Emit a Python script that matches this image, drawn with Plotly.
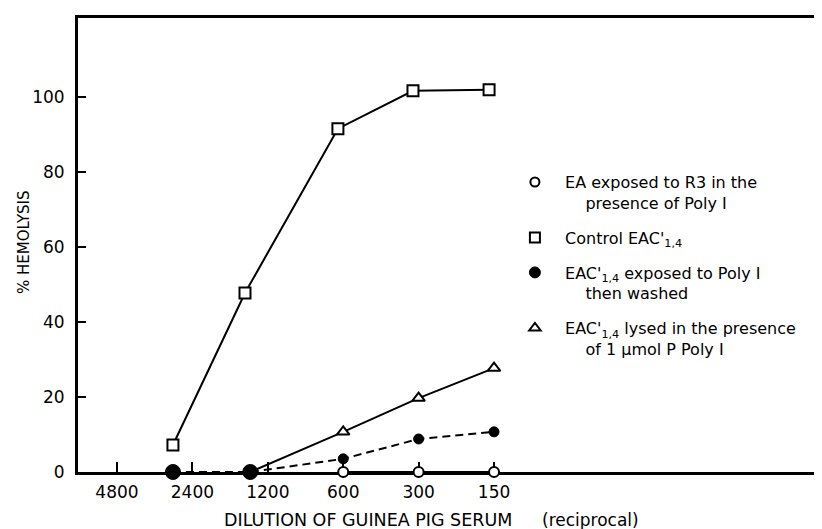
import plotly.graph_objects as go

# ---- data ----
dilution_ticks = [4800, 2400, 1200, 600, 300, 150]
dilution_labels = ["4800", "2400", "1200", "600", "300", "150"]
y_ticks = [0, 20, 40, 60, 80, 100]

ea_x = [600, 300, 150]
ea_y = [0, 0, 0]

ctrl_x = [2870, 1480, 630, 316, 157]
ctrl_y = [7.2, 47.7, 91.5, 101.6, 101.9]

washed_x = [2870, 1410, 600, 300, 150]
washed_y = [0, 0, 3.5, 8.8, 10.7]

lysed_x = [1410, 600, 300, 150]
lysed_y = [0, 10.7, 19.7, 27.7]

legend_names = [
    "EA exposed to R3 in the<br>presence of Poly I",
    "Control EAC'<sub>1,4</sub>",
    "EAC'<sub>1,4</sub> exposed to Poly I<br>then washed",
    "EAC'<sub>1,4</sub> lysed in the presence<br>of 1 \u03bcmol P Poly I",
]

FONT = "DejaVu Sans"
NB = "\u00a0"

fig = go.Figure()

# lysed (triangles) - drawn first so the filled circle at 1200 covers its start
fig.add_trace(go.Scatter(
    x=lysed_x, y=lysed_y, mode="lines+markers", showlegend=False,
    line=dict(color="black", width=2),
    marker=dict(symbol="triangle-up", size=[0, 11, 11, 11], color="white",
                opacity=1, line=dict(color="black", width=2)),
    cliponaxis=False,
))
# washed (filled circles, dashed)
fig.add_trace(go.Scatter(
    x=washed_x, y=washed_y, mode="lines+markers", showlegend=False,
    line=dict(color="black", width=2, dash="8px,5px"),
    marker=dict(symbol="circle", size=[15, 15, 10, 10, 10], color="black",
                opacity=1, line=dict(color="black", width=1)),
    cliponaxis=False,
))
# control (squares)
fig.add_trace(go.Scatter(
    x=ctrl_x, y=ctrl_y, mode="lines+markers", showlegend=False,
    line=dict(color="black", width=2),
    marker=dict(symbol="square", size=11, color="white", opacity=1,
                line=dict(color="black", width=2)),
    cliponaxis=False,
))
# EA (open circles)
fig.add_trace(go.Scatter(
    x=ea_x, y=ea_y, mode="lines+markers", showlegend=False,
    line=dict(color="black", width=2),
    marker=dict(symbol="circle", size=10, color="white", opacity=1,
                line=dict(color="black", width=2)),
    cliponaxis=False,
))

# legend-only entries (markers only, as in the original key)
leg_markers = [
    dict(symbol="circle", size=9, color="white", line=dict(color="black", width=2)),
    dict(symbol="square", size=10, color="white", line=dict(color="black", width=2)),
    dict(symbol="circle", size=11, color="black", line=dict(color="black", width=1)),
    dict(symbol="triangle-up", size=10, color="white", line=dict(color="black", width=2)),
]
indents = [4, 0, 4, 4]
for i, (name, mk) in enumerate(zip(legend_names, leg_markers)):
    parts = name.split("<br>")
    txt = NB * 2 + parts[0]
    if len(parts) > 1:
        txt += "<br>" + NB * (2 + indents[i]) + parts[1]
    fig.add_trace(go.Scatter(
        x=[None], y=[None], mode="markers", name=txt, marker=mk,
        legendgroup=f"g{i}", showlegend=True,
    ))

fig.update_layout(
    width=822, height=529,
    margin=dict(l=70, r=0, t=10, b=65),
    paper_bgcolor="white", plot_bgcolor="white",
    font=dict(family=FONT, color="black", size=16),
    showlegend=True,
    legend=dict(
        x=0.581, y=0.676, xanchor="left", yanchor="top",
        bgcolor="rgba(0,0,0,0)", font=dict(family=FONT, size=16, color="black"),
        tracegroupgap=11, valign="top", traceorder="grouped",
    ),
    xaxis=dict(
        type="log", range=[3.8369, 0.8349],
        tickvals=dilution_ticks, ticktext=dilution_labels,
        ticks="inside", ticklen=10, tickwidth=1.5, tickcolor="black",
        showline=True, linewidth=3, linecolor="black", mirror=True,
        showgrid=False, zeroline=False,
        tickfont=dict(family=FONT, size=17, color="black"),
        ticklabelstandoff=3,
        layer="below traces",
    ),
    yaxis=dict(
        range=[0, 121], tickvals=y_ticks,
        ticks="inside", ticklen=8, tickwidth=1.5, tickcolor="black",
        showline=True, linewidth=3, linecolor="black",
        showgrid=False, zeroline=False,
        tickfont=dict(family=FONT, size=17, color="black"),
        ticklabelstandoff=7,
        layer="below traces",
    ),
    annotations=[
        dict(text="% HEMOLYSIS", xref="paper", yref="paper", x=-0.0718, y=0.5066,
             textangle=-90, showarrow=False, xanchor="center", yanchor="middle",
             font=dict(family=FONT, size=15, color="black")),
        dict(text="DILUTION OF GUINEA PIG SERUM", xref="paper", yref="paper",
             x=0.1915, y=-0.1057, xanchor="left", yanchor="middle", showarrow=False,
             font=dict(family=FONT, size=17.5, color="black")),
        dict(text="(reciprocal)", xref="paper", yref="paper",
             x=0.614, y=-0.1057, xanchor="left", yanchor="middle", showarrow=False,
             font=dict(family=FONT, size=17, color="black")),
    ],
)

fig.write_html("out.html")
